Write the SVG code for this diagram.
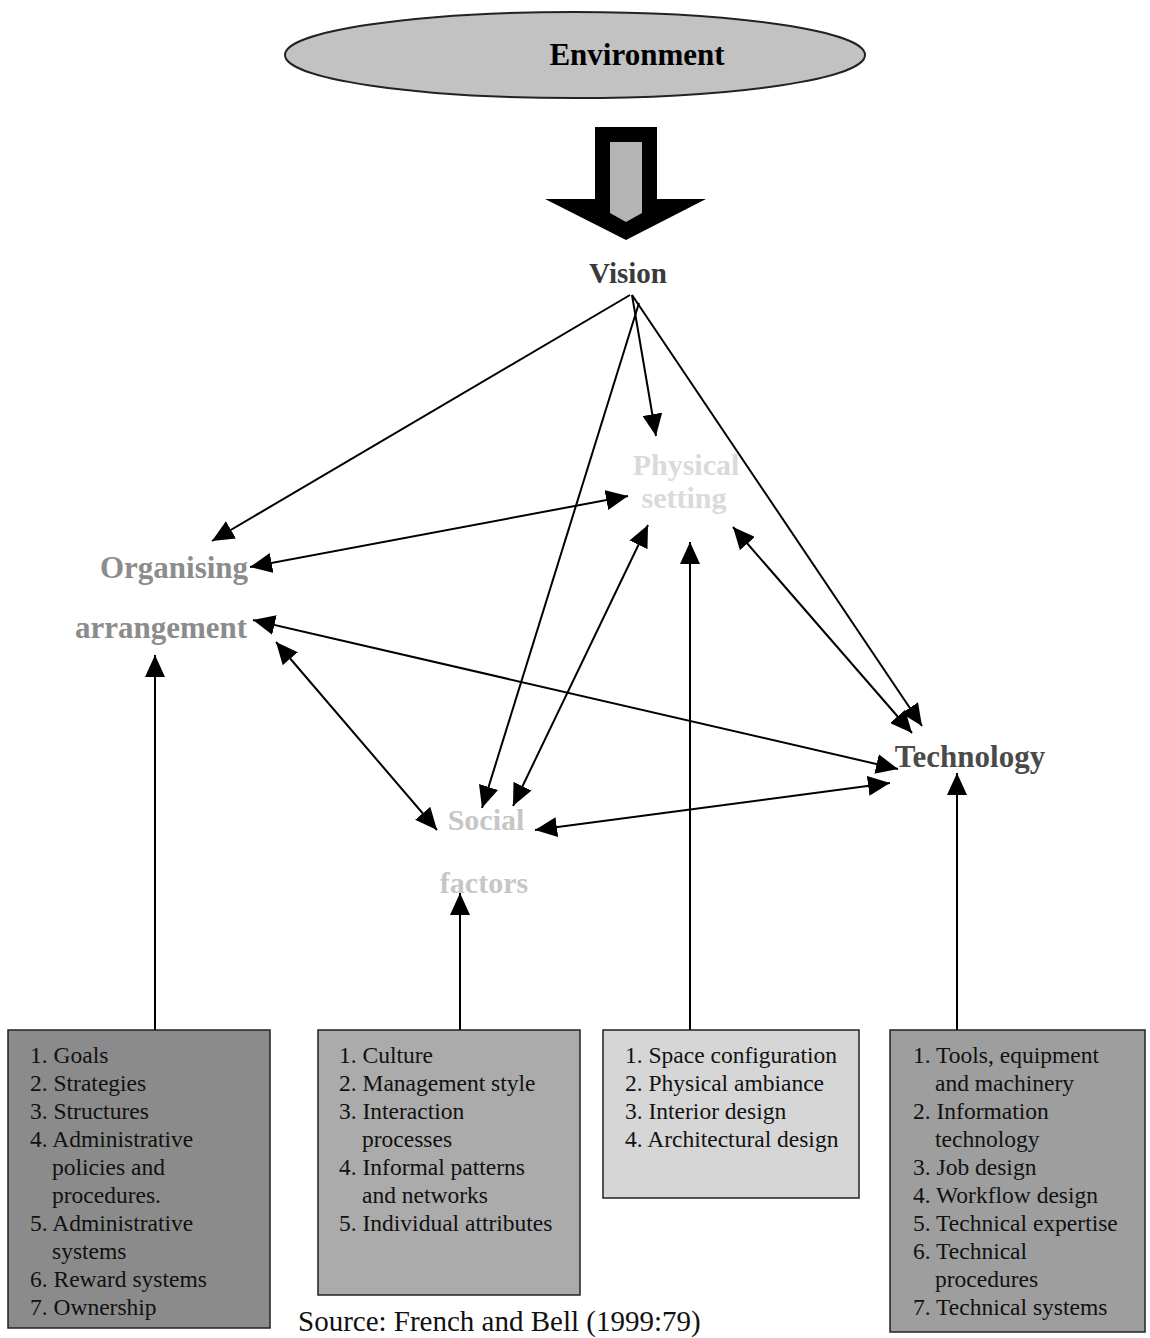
<svg xmlns="http://www.w3.org/2000/svg" width="1150" height="1338" viewBox="0 0 1150 1338">
<defs>
<marker id="ah" viewBox="0 0 22 20" refX="22" refY="10" markerWidth="22" markerHeight="20" markerUnits="userSpaceOnUse" orient="auto-start-reverse">
<path d="M0,0 L22,10 L0,20 z" fill="#000"/>
</marker>
<style>
.lbl{font-family:"Liberation Serif","Times New Roman",serif;font-weight:bold;font-size:30px;text-anchor:middle}
.item{font-family:"Liberation Serif","Times New Roman",serif;font-size:23.5px;fill:#111}
.c{fill:none;stroke:#000;stroke-width:2}
.one{marker-end:url(#ah)}
.two{marker-start:url(#ah);marker-end:url(#ah)}
.box{stroke:#222;stroke-width:1.5}
</style>
</defs>
<rect width="1150" height="1338" fill="#fff"/>

<g id="environment">
<ellipse cx="575" cy="55" rx="290" ry="43" fill="#c2c2c2" stroke="#222" stroke-width="2"/>
<text x="637" y="65" class="lbl" style="font-size:31px;fill:#000">Environment</text>
</g>

<g id="block-arrow">
<path d="M595,127 L657,127 L657,199 L706,199 L626,240 L545,199 L595,199 Z" fill="#000"/>
<path d="M610,142 L642,142 L642,213 L626,222 L610,213 Z" fill="#b4b4b4"/>
</g>

<g id="vision">
<text x="628" y="283" class="lbl" style="font-size:29px;fill:#3a3a3a">Vision</text>
</g>

<g id="physical-setting">
<text x="686" y="475" class="lbl" style="fill:#dadada">Physical</text>
<text x="684" y="508" class="lbl" style="fill:#dadada">setting</text>
</g>

<g id="organising-arrangement">
<text x="174" y="578" class="lbl" style="font-size:31px;fill:#8c8c8c">Organising</text>
<text x="161" y="638" class="lbl" style="font-size:31px;fill:#8c8c8c">arrangement</text>
</g>

<g id="social-factors">
<text x="486" y="830" class="lbl" style="fill:#c6c6c6">Social</text>
<text x="484" y="893" class="lbl" style="fill:#c6c6c6">factors</text>
</g>

<g id="technology">
<text x="970" y="767" class="lbl" style="font-size:31px;fill:#4a4a4a">Technology</text>
</g>

<g id="connectors">
<line class="c one" x1="630" y1="295" x2="212" y2="541"/>
<line class="c one" x1="632" y1="295" x2="656" y2="436"/>
<line class="c one" x1="639" y1="303" x2="482" y2="808"/>
<line class="c one" x1="632" y1="295" x2="922" y2="726"/>
<line class="c two" x1="250" y1="567" x2="628" y2="496"/>
<line class="c two" x1="253" y1="620" x2="898" y2="769"/>
<line class="c two" x1="276" y1="642" x2="437" y2="830"/>
<line class="c two" x1="648" y1="525" x2="513" y2="806"/>
<line class="c two" x1="733" y1="527" x2="912" y2="733"/>
<line class="c two" x1="535" y1="830" x2="890" y2="783"/>
<line class="c one" x1="155" y1="1030" x2="155" y2="655"/>
<line class="c one" x1="460" y1="1030" x2="460" y2="893"/>
<line class="c one" x1="690" y1="1030" x2="690" y2="542"/>
<line class="c one" x1="957" y1="1030" x2="957" y2="773"/>
</g>

<g id="box-organising">
<rect class="box" x="8" y="1030" width="262" height="298" fill="#8b8b8b"/>
<text class="item" x="30" y="1063">1. Goals</text>
<text class="item" x="30" y="1091">2. Strategies</text>
<text class="item" x="30" y="1119">3. Structures</text>
<text class="item" x="30" y="1147">4. Administrative</text>
<text class="item" x="52" y="1175">policies and</text>
<text class="item" x="52" y="1203">procedures.</text>
<text class="item" x="30" y="1231">5. Administrative</text>
<text class="item" x="52" y="1259">systems</text>
<text class="item" x="30" y="1287">6. Reward systems</text>
<text class="item" x="30" y="1315">7. Ownership</text>
</g>

<g id="box-social">
<rect class="box" x="318" y="1030" width="262" height="265" fill="#ababab"/>
<text class="item" x="339" y="1063">1. Culture</text>
<text class="item" x="339" y="1091">2. Management style</text>
<text class="item" x="339" y="1119">3. Interaction</text>
<text class="item" x="362" y="1147">processes</text>
<text class="item" x="339" y="1175">4. Informal patterns</text>
<text class="item" x="362" y="1203">and networks</text>
<text class="item" x="339" y="1231">5. Individual attributes</text>
</g>

<g id="box-physical">
<rect class="box" x="603" y="1030" width="256" height="168" fill="#d6d6d6"/>
<text class="item" x="625" y="1063">1. Space configuration</text>
<text class="item" x="625" y="1091">2. Physical ambiance</text>
<text class="item" x="625" y="1119">3. Interior design</text>
<text class="item" x="625" y="1147">4. Architectural design</text>
</g>

<g id="box-technology">
<rect class="box" x="890" y="1030" width="255" height="302" fill="#9e9e9e"/>
<text class="item" x="913" y="1063">1. Tools, equipment</text>
<text class="item" x="935" y="1091">and machinery</text>
<text class="item" x="913" y="1119">2. Information</text>
<text class="item" x="935" y="1147">technology</text>
<text class="item" x="913" y="1175">3. Job design</text>
<text class="item" x="913" y="1203">4. Workflow design</text>
<text class="item" x="913" y="1231">5. Technical expertise</text>
<text class="item" x="913" y="1259">6. Technical</text>
<text class="item" x="935" y="1287">procedures</text>
<text class="item" x="913" y="1315">7. Technical systems</text>
</g>

<g id="source">
<text class="item" x="298" y="1331" style="font-size:29px">Source: French and Bell (1999:79)</text>
</g>
</svg>
